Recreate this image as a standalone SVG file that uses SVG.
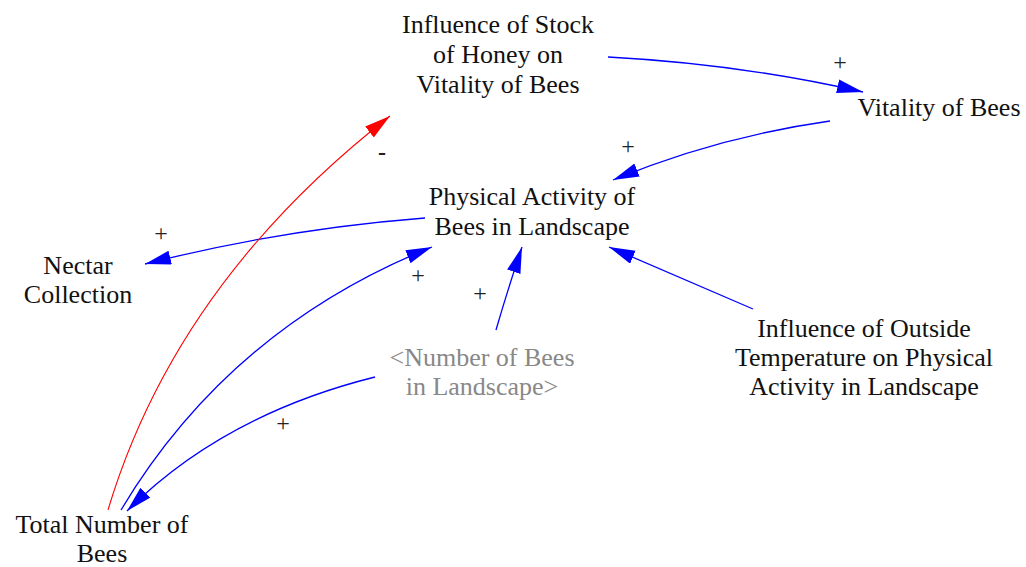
<svg xmlns="http://www.w3.org/2000/svg" width="1026" height="567" viewBox="0 0 1026 567">
<style>
.t{font-family:"Liberation Serif","Times New Roman",serif;font-size:26px;fill:#111;text-anchor:middle}
.g{fill:#888}
.s{font-family:"Liberation Serif","Times New Roman",serif;font-size:24px;fill:#222;text-anchor:middle}
.b{fill:none;stroke:#0000ff;stroke-width:1.3;marker-end:url(#ab)}
.r{fill:none;stroke:#ff0000;stroke-width:1.1;marker-end:url(#ar)}
</style>
<defs>
<marker id="ab" markerUnits="userSpaceOnUse" markerWidth="28" markerHeight="16" refX="26" refY="7" orient="auto"><path d="M0,0 L26,7 L0,14 z" fill="#0000ff"/></marker>
<marker id="ar" markerUnits="userSpaceOnUse" markerWidth="28" markerHeight="16" refX="26" refY="7" orient="auto"><path d="M0,0 L26,7 L0,14 z" fill="#ff0000"/></marker>
</defs>
<rect width="1026" height="567" fill="#fff"/>
<g id="connectors">
<path class="b" d="M608,57 Q740,64 863,92"/>
<path class="b" d="M830,121 Q717,137 613,180"/>
<path class="b" d="M425,218 Q283,229 145,264"/>
<path class="r" d="M108,510 Q176,283 390,116"/>
<path class="b" d="M121,510 Q230,328 432,247"/>
<path class="b" d="M496,330 Q507,292 522,247"/>
<path class="b" d="M753,309 L609,247"/>
<path class="b" d="M375,377 Q223,415 127,511"/>
<text class="s" x="840" y="70">+</text>
<text class="s" x="628" y="154">+</text>
<text class="s" x="161" y="241">+</text>
<text class="s" x="418" y="283">+</text>
<text class="s" x="480" y="301">+</text>
<text class="s" x="283" y="431">+</text>
<text class="s" x="382" y="160" font-weight="bold">-</text>
</g>
<g id="influence-stock-honey">
<text class="t" x="498" y="33">Influence of Stock</text>
<text class="t" x="498" y="63">of Honey on</text>
<text class="t" x="498" y="93">Vitality of Bees</text>
</g>
<g id="vitality-of-bees">
<text class="t" x="939" y="116">Vitality of Bees</text>
</g>
<g id="physical-activity">
<text class="t" x="532" y="205">Physical Activity of</text>
<text class="t" x="532" y="235">Bees in Landscape</text>
</g>
<g id="nectar-collection">
<text class="t" x="78" y="274">Nectar</text>
<text class="t" x="78" y="303">Collection</text>
</g>
<g id="number-of-bees-in-landscape">
<text class="t g" x="482" y="366">&lt;Number of Bees</text>
<text class="t g" x="482" y="395">in Landscape&gt;</text>
</g>
<g id="influence-outside-temperature">
<text class="t" x="864" y="337">Influence of Outside</text>
<text class="t" x="864" y="366">Temperature on Physical</text>
<text class="t" x="864" y="395">Activity in Landscape</text>
</g>
<g id="total-number-of-bees">
<text class="t" x="102" y="533">Total Number of</text>
<text class="t" x="102" y="562">Bees</text>
</g>
</svg>
